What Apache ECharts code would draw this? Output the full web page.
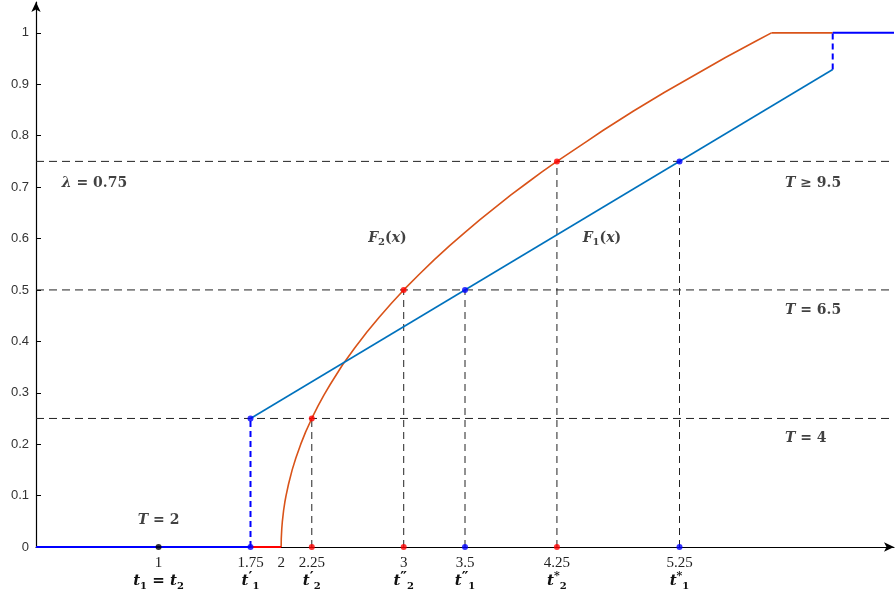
<!DOCTYPE html>
<html><head><meta charset="utf-8">
<script src="https://cdn.jsdelivr.net/npm/echarts@6/dist/echarts.min.js"></script>
<style>html,body{margin:0;padding:0;background:#fff}#c{width:896px;height:594px}</style>
</head><body><div id="c"></div>
<script>
// ---- data ----
const xTicks = [1, 1.75, 2, 2.25, 3, 3.5, 4.25, 5.25];
const xTickNames = ['{m|t}{sb|1}{e| = }{m|t}{sb|2}', '{m|t}{sp|′}{sb|1}', '', '{m|t}{sp|′}{sb|2}',
  '{m|t}{sp|″}{sb|2}', '{m|t}{sp|″}{sb|1}', '{m|t}{st|*}{sb|2}', '{m|t}{st|*}{sb|1}'];
const yTicks = [0, 0.1, 0.2, 0.3, 0.4, 0.5, 0.6, 0.7, 0.8, 0.9, 1];
const f1Line = [[1.75, 0.25], [6.5, 0.9286]];
const f1Low = [[0, 0], [1.75, 0]];
const f1Jump = [[1.75, 0], [1.75, 0.25]];
const f1TopJump = [[6.5, 0.9286], [6.5, 1]];
const f1Top = [[6.5, 1], [7, 1]];
const f2Low = [[1.75, 0], [2, 0]];
const f2Curve = [[2, 0], [2.001, 0.016], [2.005, 0.035], [2.01, 0.05], [2.02, 0.071], [2.03, 0.087], [2.04, 0.1],
  [2.06, 0.122], [2.09, 0.15], [2.12, 0.173], [2.16, 0.2], [2.2, 0.224], [2.25, 0.25], [2.3, 0.274], [2.35, 0.296],
  [2.4, 0.316], [2.5, 0.354], [2.6, 0.387], [2.7, 0.418], [2.8, 0.447], [2.9, 0.474], [3, 0.5], [3.125, 0.53],
  [3.25, 0.559], [3.375, 0.586], [3.5, 0.612], [3.625, 0.637], [3.75, 0.661], [3.875, 0.685], [4, 0.707],
  [4.125, 0.729], [4.25, 0.75], [4.375, 0.77], [4.5, 0.79], [4.625, 0.81], [4.75, 0.829], [4.875, 0.848],
  [5, 0.866], [5.125, 0.884], [5.25, 0.901], [5.375, 0.918], [5.5, 0.935], [5.625, 0.952], [5.75, 0.968],
  [5.875, 0.984], [6, 1]];
const f2Top = [[6, 1], [6.5, 1]];
const levels = [0.25, 0.5, 0.75];
const dropPoints = [[2.25, 0.25], [3, 0.5], [3.5, 0.5], [4.25, 0.75], [5.25, 0.75]];
const bluePts = [[1.75, 0], [1.75, 0.25], [3.5, 0.5], [3.5, 0], [5.25, 0.75], [5.25, 0]];
const redPts = [[2.25, 0.25], [2.25, 0], [3, 0.5], [3, 0], [4.25, 0.75], [4.25, 0]];
const blackPts = [[1, 0]];
const notes = [
  { x: 1, y: 0.052, t: '{i|T}{b| = 2}', align: 'center' },
  { x: 0.21, y: 0.708, t: '{i|λ}{b| = 0.75}', align: 'left' },
  { x: 6.11, y: 0.708, t: '{i|T}{b| ≥ 9.5}', align: 'left' },
  { x: 6.11, y: 0.461, t: '{i|T}{b| = 6.5}', align: 'left' },
  { x: 6.11, y: 0.212, t: '{i|T}{b| = 4}', align: 'left' },
  { x: 2.71, y: 0.601, t: '{i|F}{s|2}{b|(}{i|x}{b|)}', align: 'left' },
  { x: 4.46, y: 0.601, t: '{i|F}{s|1}{b|(}{i|x}{b|)}', align: 'left' }
];

const mathFont = '"DejaVu Serif", "Liberation Serif", serif';
const numFont = '"Liberation Serif", "DejaVu Serif", serif';
const rich = {
  i: { fontFamily: mathFont, fontStyle: 'italic', fontWeight: 'bold', fontSize: 14, color: '#111', lineHeight: 18 },
  b: { fontFamily: mathFont, fontWeight: 'bold', fontSize: 14, color: '#111', lineHeight: 18 },
  s: { fontFamily: mathFont, fontWeight: 'bold', fontSize: 10, color: '#111', lineHeight: 10, verticalAlign: 'bottom' }
};

function seg(data, color, width, type, z) {
  return { type: 'line', data: data, symbol: 'none', silent: true, z: z || 2,
    lineStyle: { color: color, width: width, type: type || 'solid' } };
}
function pts(data, color) {
  return { type: 'scatter', data: data, symbolSize: 6, silent: true, z: 5, itemStyle: { color: color } };
}

const series = [];
levels.forEach(v => series.push(seg([[0, v], [7, v]], '#222', 1, [8, 5], 1)));
dropPoints.forEach(p => series.push(seg([[p[0], 0], p], '#222', 1, [7, 5], 1)));
series.push(seg(f2Curve, '#D95319', 1.6, 'solid', 3));
series.push(seg(f2Top, '#D95319', 1.6, 'solid', 3));
series.push(seg(f1Line, '#0072BD', 1.6, 'solid', 3));
series.push(seg(f1Low, '#0000FF', 2, 'solid', 3));
series.push(seg(f2Low, '#FF0000', 2, 'solid', 3));
series.push(seg(f1Jump, '#0000FF', 2, [6, 4], 3));
series.push(seg(f1TopJump, '#0000FF', 2, [6, 4], 3));
series.push(seg(f1Top, '#0000FF', 2, 'solid', 3));
series.push(pts(bluePts, '#0000FF'));
series.push(pts(redPts, '#FF0000'));
series.push(pts(blackPts, '#000000'));
series.push({
  type: 'scatter', silent: true, z: 6, symbolSize: 1, itemStyle: { color: 'rgba(0,0,0,0)' },
  data: notes.map(n => ({ value: [n.x, n.y], label: { align: n.align, formatter: n.t } })),
  label: { show: true, position: 'inside', verticalAlign: 'middle', rich: rich }
});

const chart = echarts.init(document.getElementById('c'), null, { renderer: 'canvas' });
chart.setOption({
  animation: false,
  grid: { left: 36, right: 2, top: 2, bottom: 47 },
  xAxis: {
    type: 'value', min: 0, max: 7,
    axisLine: { show: true, onZero: false, lineStyle: { color: '#000', width: 1.2 }, symbol: ['none', 'arrow'], symbolSize: [7, 10] },
    axisTick: { show: false },
    splitLine: { show: false },
    axisLabel: {
      customValues: xTicks, margin: 8, color: '#222',
      formatter: function (v) {
        const k = xTicks.indexOf(v);
        const name = xTickNames[k];
        return '{n|' + v + '}' + (name ? '\n' + name : '');
      },
      rich: {
        n: { fontFamily: numFont, fontSize: 15, color: '#222', lineHeight: 16 },
        m: { fontFamily: mathFont, fontStyle: 'italic', fontWeight: 'bold', fontSize: 15, color: '#111', lineHeight: 20 },
        e: { fontFamily: mathFont, fontWeight: 'bold', fontSize: 15, color: '#111', lineHeight: 20 },
        sb: { fontFamily: mathFont, fontWeight: 'bold', fontSize: 10, color: '#111', lineHeight: 10, verticalAlign: 'bottom' },
        sp: { fontFamily: mathFont, fontWeight: 'bold', fontSize: 15, color: '#111', lineHeight: 14, verticalAlign: 'top' },
        st: { fontFamily: mathFont, fontWeight: 'bold', fontSize: 11, color: '#111', lineHeight: 11, verticalAlign: 'top' }
      }
    }
  },
  yAxis: {
    type: 'value', min: 0, max: 1.06,
    axisLine: { show: true, onZero: false, lineStyle: { color: '#000', width: 1.2 }, symbol: ['none', 'arrow'], symbolSize: [7, 10] },
    axisTick: { show: true, inside: true, length: 5, customValues: yTicks, lineStyle: { color: '#000' } },
    splitLine: { show: false },
    axisLabel: { customValues: yTicks, color: '#333', fontFamily: '"Liberation Sans", Arial, sans-serif', fontSize: 13, margin: 7 }
  },
  series: series
});
</script>
</body></html>
